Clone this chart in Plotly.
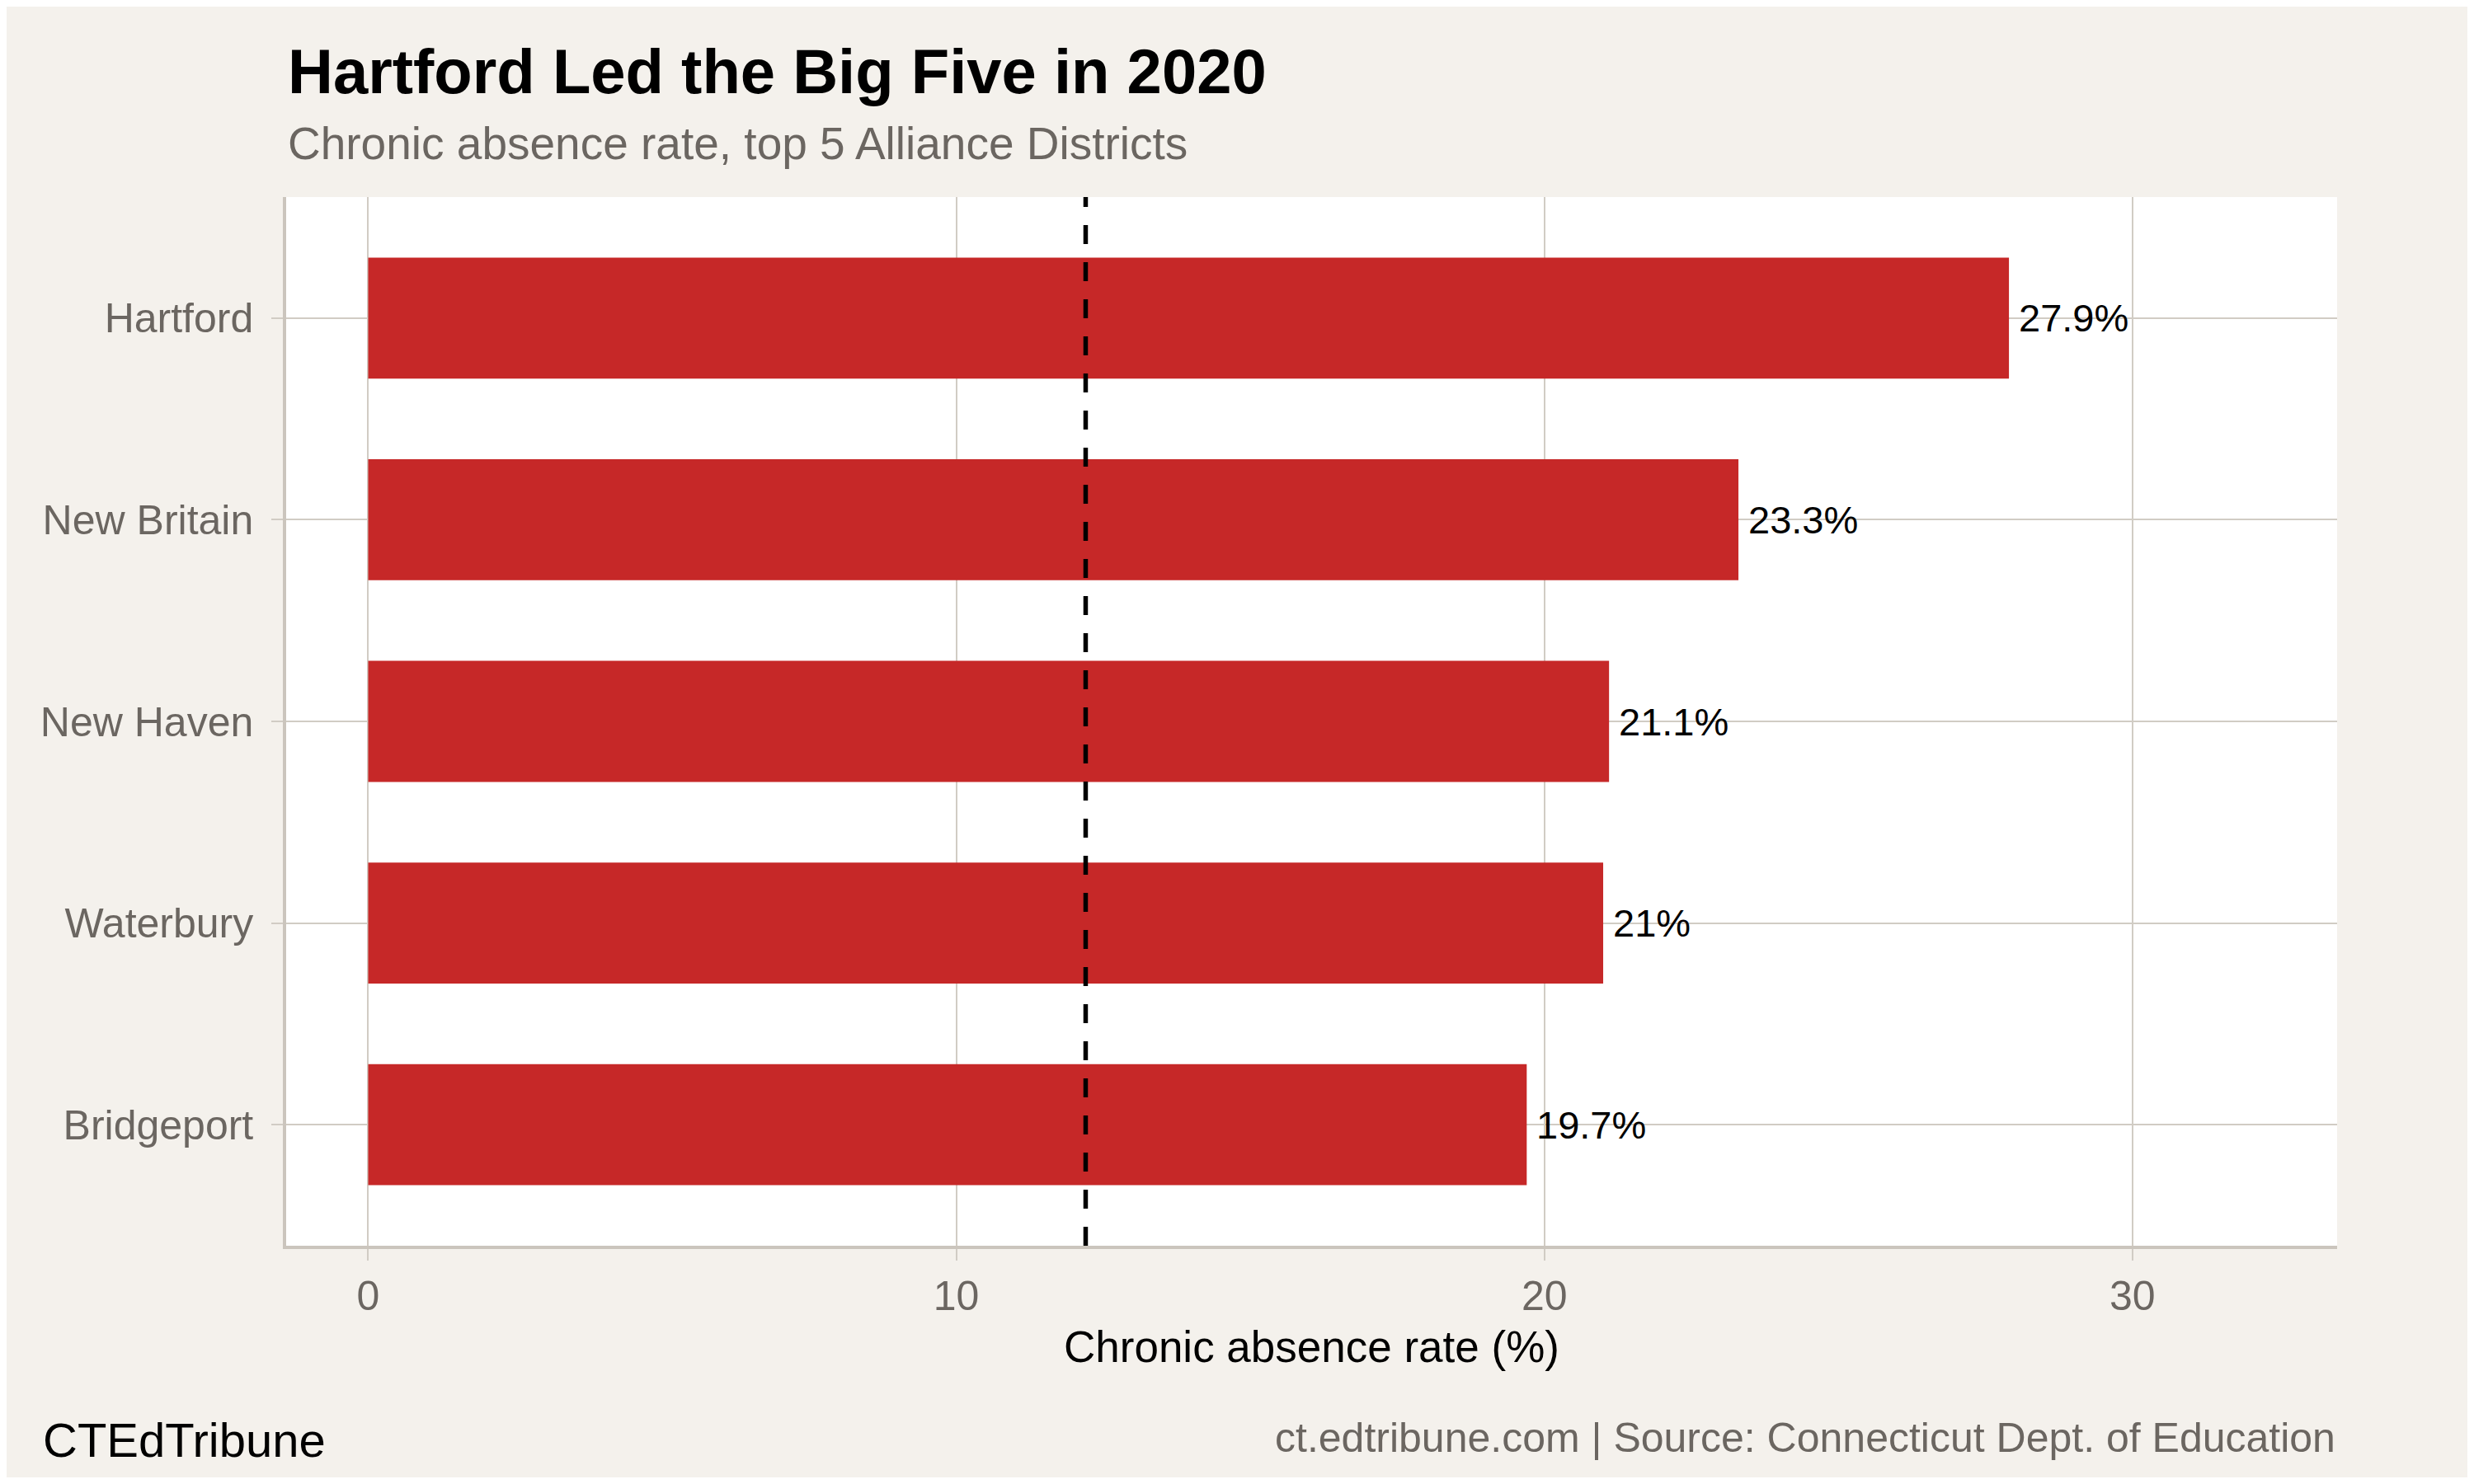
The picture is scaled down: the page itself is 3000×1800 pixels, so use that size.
import plotly.graph_objects as go

# ---- data ----
districts = ["Hartford", "New Britain", "New Haven", "Waterbury", "Bridgeport"]
rates = [27.9, 23.3, 21.1, 21.0, 19.7]
state_avg = 12.2
x_ticks = [0, 10, 20, 30]

title = "Hartford Led the Big Five in 2020"
subtitle = "Chronic absence rate, top 5 Alliance Districts"
x_title = "Chronic absence rate (%)"
caption_left = "CTEdTribune"
caption_right = "ct.edtribune.com | Source: Connecticut Dept. of Education"

# ---- styling ----
OFF = 8  # browser body margin
SW, SH = 3000, 1800  # screen size
W, H = SW - 2 * OFF, SH - 2 * OFF
# plot area in screen pixels
PL, PR, PT, PB = 347, 2834, 239, 1511
L, T = PL - OFF, PT - OFF
R = W - (PR - OFF)
B = H - (PB - OFF)
BG = "#F4F1EC"
BAR = "#C62828"
GRID = "#D1CCC4"
AXIS = "#CBC5BD"
GREY = "#6B6661"
FONT = "Liberation Sans"

plot_h = PB - PT
plot_w = PR - PL


def py(px):
    return (PB - px) / plot_h


def pxx(px):
    return (px - PL) / plot_w


order = list(reversed(districts))

fig = go.Figure()
fig.add_trace(go.Bar(
    x=rates, y=districts, orientation="h", width=0.6,
    marker=dict(color=BAR, line=dict(width=0)),
    hoverinfo="skip", showlegend=False,
))

xmax = max(rates)
fig.update_layout(
    width=W, height=H,
    margin=dict(l=L, r=R, t=T, b=B, pad=0),
    paper_bgcolor=BG, plot_bgcolor="white",
    font=dict(family=FONT, color=GREY),
    bargap=0.4,
    xaxis=dict(
        range=[-0.05 * xmax, 1.2 * xmax],
        tickvals=x_ticks, ticktext=[str(v) for v in x_ticks],
        showgrid=True, gridcolor=GRID, gridwidth=2.2,
        zeroline=False,
        showline=True, linecolor=AXIS, linewidth=3.5,
        ticks="outside", ticklen=14, tickwidth=2.2, tickcolor=GRID,
        tickfont=dict(size=50, color=GREY, family=FONT),
    ),
    yaxis=dict(
        type="category", categoryorder="array", categoryarray=order,
        range=[-0.6, len(order) - 1 + 0.6],
        showgrid=True, gridcolor=GRID, gridwidth=2.2,
        zeroline=False,
        showline=True, linecolor=AXIS, linewidth=3.5,
        ticks="outside", ticklen=14, tickwidth=2.2, tickcolor=GRID,
        ticklabelstandoff=12,
        tickfont=dict(size=50, color=GREY, family=FONT),
    ),
)

# state average dashed reference line
fig.add_shape(type="line", xref="x", yref="paper", x0=state_avg, x1=state_avg,
              y0=0, y1=1, line=dict(color="black", width=5.5, dash="23px,22px"),
              layer="above")

# value labels
for d, v in zip(districts, rates):
    fig.add_annotation(x=v, y=d, xref="x", yref="y", text=f"{v:g}%",
                       showarrow=False, xanchor="left", yanchor="middle",
                       xshift=10, font=dict(size=47, color="black", family=FONT))

ann = [
    dict(text=f"<b>{title}</b>", x=0, y=py(86), xanchor="left", size=76, color="black"),
    dict(text=subtitle, x=0, y=py(174), xanchor="left", size=55, color=GREY),
    dict(text=x_title, x=0.5, y=py(1633), xanchor="center", size=53, color="black"),
    dict(text=caption_left, x=pxx(50), y=py(1746), xanchor="left", size=58, color="black"),
    dict(text=caption_right, x=1.0, y=py(1744), xanchor="right", size=50, color=GREY),
]
for a in ann:
    fig.add_annotation(text=a["text"], x=a["x"], y=a["y"], xref="paper", yref="paper",
                       xanchor=a["xanchor"], yanchor="middle", showarrow=False,
                       font=dict(size=a["size"], color=a["color"], family=FONT))

fig.write_html("out.html")
